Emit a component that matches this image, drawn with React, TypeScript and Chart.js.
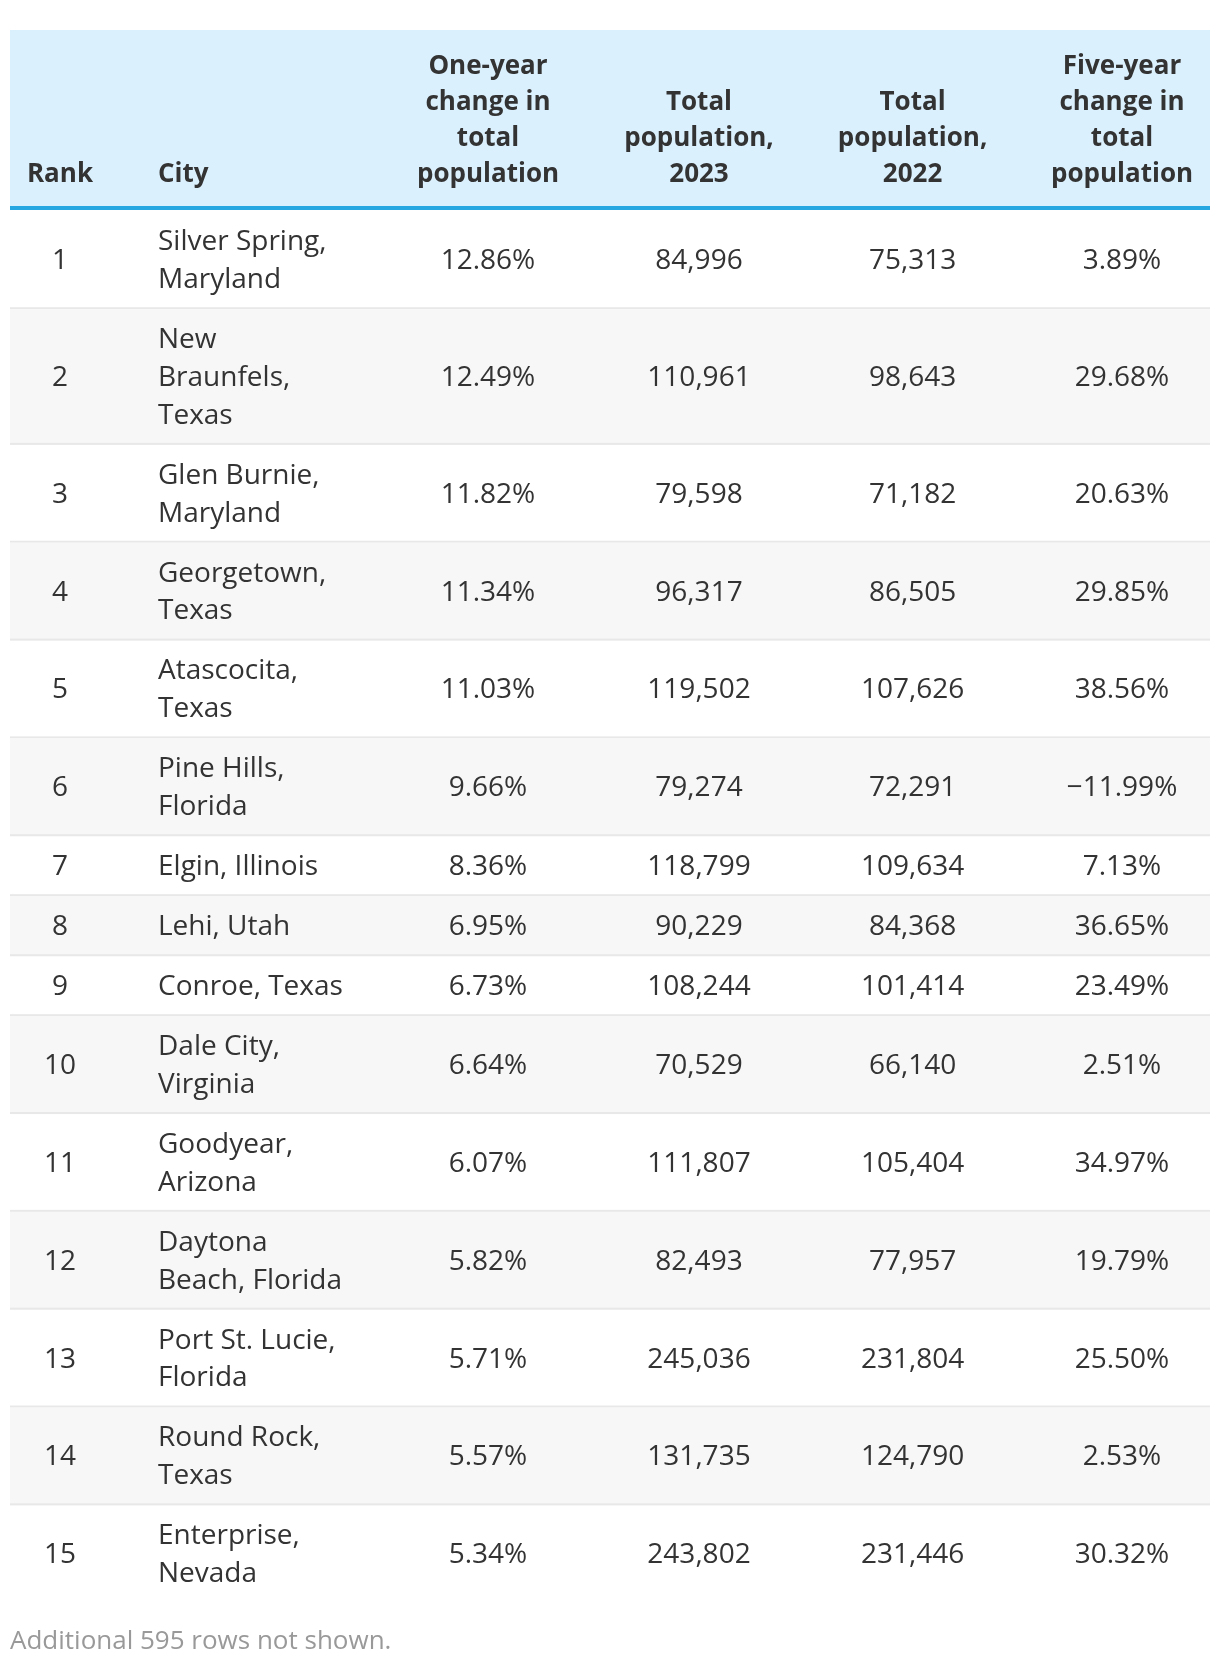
import React, { useEffect, useRef } from "react";
import Chart from "chart.js/auto";

// ---- data ----
const columnHeaders: string[][] = [
  ["Rank"],
  ["City"],
  ["One-year", "change in", "total", "population"],
  ["Total", "population,", "2023"],
  ["Total", "population,", "2022"],
  ["Five-year", "change in", "total", "population"],
];
const ranks = [1, 2, 3, 4, 5, 6, 7, 8, 9, 10, 11, 12, 13, 14, 15];
const cities = [
  "Silver Spring,\nMaryland",
  "New\nBraunfels,\nTexas",
  "Glen Burnie,\nMaryland",
  "Georgetown,\nTexas",
  "Atascocita,\nTexas",
  "Pine Hills,\nFlorida",
  "Elgin, Illinois",
  "Lehi, Utah",
  "Conroe, Texas",
  "Dale City,\nVirginia",
  "Goodyear,\nArizona",
  "Daytona\nBeach, Florida",
  "Port St. Lucie,\nFlorida",
  "Round Rock,\nTexas",
  "Enterprise,\nNevada",
];
const oneYearChange = [12.86, 12.49, 11.82, 11.34, 11.03, 9.66, 8.36, 6.95, 6.73, 6.64, 6.07, 5.82, 5.71, 5.57, 5.34];
const population2023 = [84996, 110961, 79598, 96317, 119502, 79274, 118799, 90229, 108244, 70529, 111807, 82493, 245036, 131735, 243802];
const population2022 = [75313, 98643, 71182, 86505, 107626, 72291, 109634, 84368, 101414, 66140, 105404, 77957, 231804, 124790, 231446];
const fiveYearChange = [3.89, 29.68, 20.63, 29.85, 38.56, -11.99, 7.13, 36.65, 23.49, 2.51, 34.97, 19.79, 25.5, 2.53, 30.32];
const footerNote = "Additional 595 rows not shown.";

// ---- layout (canvas units) ----
const W = 1204;
const H = 1650;
const L = {
  left: 2,
  right: 1202,
  headerTop: 22,
  headerBottom: 198,
  rule: 4,
  rowShift: 1.4,
  headerLineH: 36,
  headerLastBaseline: 174,
  lineH: 37.83,
  rowPad: 22.17,
  border: 2,
  baselineOffset: 9.9,
  colAnchors: [52, 150, 480, 691, 904.6, 1114],
  colAlign: ["center", "left", "center", "center", "center", "center"] as CanvasTextAlign[],
  footerBaseline: 1641.3,
};
const FONT = '"Open Sans", "Noto Sans", sans-serif';

const fmtPct = (v: number) => (v < 0 ? "\u2212" : "") + Math.abs(v).toFixed(2) + "%";
const fmtInt = (v: number) => v.toLocaleString("en-US");

const tablePlugin = {
  id: "tableCells",
  beforeDraw(chart: any) {
    const { ctx } = chart;
    const xs = chart.scales.x;
    const ys = chart.scales.y;
    const px = (v: number) => xs.getPixelForValue(v);
    const py = (v: number) => ys.getPixelForValue(v);
    ctx.save();
    // header
    ctx.fillStyle = "#dbf0fd";
    ctx.fillRect(px(L.left), py(L.headerTop), px(L.right) - px(L.left), py(L.headerBottom) - py(L.headerTop));
    ctx.fillStyle = "#27a7e1";
    ctx.fillRect(px(L.left), py(L.headerBottom), px(L.right) - px(L.left), py(L.headerBottom + L.rule) - py(L.headerBottom));
    ctx.fillStyle = "#333333";
    ctx.font = `bold 26px ${FONT}`;
    ctx.textBaseline = "alphabetic";
    columnHeaders.forEach((lines, c) => {
      ctx.textAlign = L.colAlign[c];
      const n = lines.length;
      lines.forEach((t, i) => {
        ctx.fillText(t, px(L.colAnchors[c]), py(L.headerLastBaseline - (n - 1 - i) * L.headerLineH));
      });
    });
    // rows
    let top = L.headerBottom + L.rule + L.rowShift;
    ranks.forEach((rank, r) => {
      const cityLines = cities[r].split("\n");
      const h = cityLines.length * L.lineH + L.rowPad;
      const bottom = top + h;
      if (r % 2 === 1) {
        ctx.fillStyle = "#f7f7f7";
        ctx.fillRect(px(L.left), py(top), px(L.right) - px(L.left), py(bottom) - py(top));
      }
      if (r < ranks.length - 1) {
        ctx.fillStyle = "#e8e8e8";
        ctx.fillRect(px(L.left), py(bottom - L.border), px(L.right) - px(L.left), py(bottom) - py(bottom - L.border));
      }
      const mid = top + (h - L.border) / 2;
      const cells: string[][] = [
        [String(rank)],
        cityLines,
        [fmtPct(oneYearChange[r])],
        [fmtInt(population2023[r])],
        [fmtInt(population2022[r])],
        [fmtPct(fiveYearChange[r])],
      ];
      ctx.fillStyle = "#333333";
      ctx.font = `28px ${FONT}`;
      cells.forEach((lines, c) => {
        ctx.textAlign = L.colAlign[c];
        const n = lines.length;
        lines.forEach((t, i) => {
          const base = mid - (n * L.lineH) / 2 + i * L.lineH + L.lineH / 2 + L.baselineOffset;
          ctx.fillText(t, px(L.colAnchors[c]), py(base));
        });
      });
      top = bottom;
    });
    // footer
    ctx.fillStyle = "#999999";
    ctx.font = `26px ${FONT}`;
    ctx.textAlign = "left";
    ctx.fillText(footerNote, px(L.left), py(L.footerBaseline));
    ctx.restore();
  },
};

export default function App() {
  const ref = useRef<HTMLCanvasElement | null>(null);
  useEffect(() => {
    if (!ref.current) return;
    const chart = new Chart(ref.current, {
      type: "scatter",
      data: { datasets: [] },
      options: {
        animation: false,
        responsive: false,
        devicePixelRatio: 1,
        layout: { padding: 0 },
        plugins: { legend: { display: false }, tooltip: { enabled: false } },
        scales: {
          x: { type: "linear", min: 0, max: W, display: false },
          y: { type: "linear", min: 0, max: H, reverse: true, display: false },
        },
      },
      plugins: [tablePlugin],
    } as any);
    return () => chart.destroy();
  }, []);
  return (
    <div style={{ width: W, height: H }}>
      <canvas ref={ref} width={W} height={H} style={{ display: "block", width: W, height: H }} />
    </div>
  );
}
